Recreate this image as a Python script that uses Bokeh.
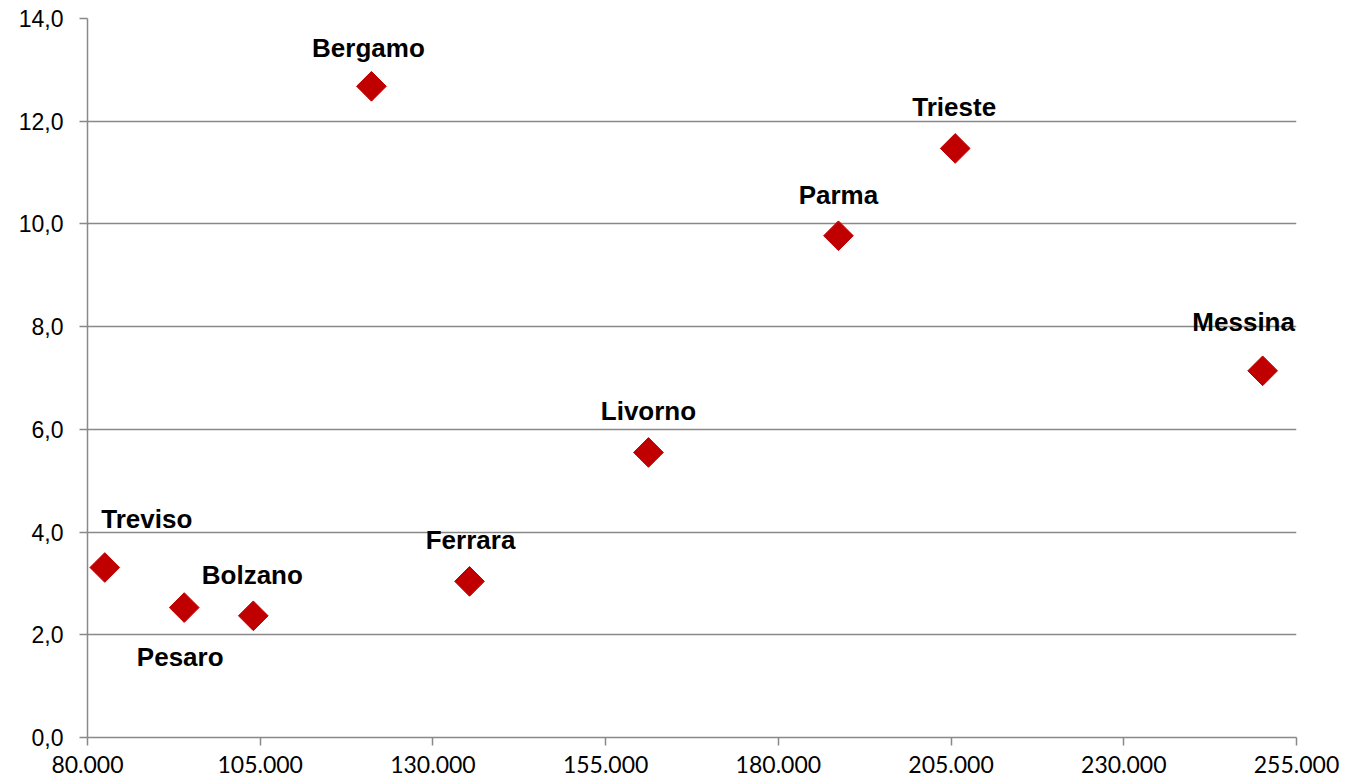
from bokeh.plotting import figure
from bokeh.models import ColumnDataSource, FixedTicker, Range1d, LabelSet
from bokeh.core.properties import value
from bokeh.embed import file_html
from bokeh.resources import INLINE
import math

cities = ["Treviso", "Pesaro", "Bolzano", "Ferrara", "Livorno", "Bergamo", "Parma", "Trieste", "Messina"]
population = [82500, 94000, 104000, 135300, 161200, 121100, 188700, 205600, 250100]
rate = [3.31, 2.53, 2.37, 3.04, 5.55, 12.68, 9.77, 11.47, 7.14]

x_ticks = [80000, 105000, 130000, 155000, 180000, 205000, 230000, 255000]
x_tick_labels = ["80.000", "105.000", "130.000", "155.000", "180.000", "205.000", "230.000", "255.000"]
y_ticks = [0, 2, 4, 6, 8, 10, 12, 14]
y_tick_labels = ["0,0", "2,0", "4,0", "6,0", "8,0", "10,0", "12,0", "14,0"]

# label placement (screen pixel offsets from each marker; dy positive = up)
label_dx = [42, -4, -1, 1, 0, -3, 0, -1, -19]
label_dy = [49, -49, 41, 41, 41, 38, 41, 41, 49]

src = ColumnDataSource(dict(x=population, y=rate, name=cities, dx=label_dx, dy=label_dy))

p = figure(width=1351, height=784, output_backend="svg", toolbar_location=None,
           x_range=Range1d(80000, 255000), y_range=Range1d(0, 14),
           min_border_left=87, min_border_right=55, min_border_top=18, min_border_bottom=47)
p.outline_line_color = None
p.background_fill_color = "white"
p.border_fill_color = "white"

grid_col = "#898989"
p.xgrid.grid_line_color = None
p.ygrid.grid_line_color = grid_col
p.ygrid.grid_line_width = 1.5

p.xaxis.ticker = FixedTicker(ticks=x_ticks)
p.yaxis.ticker = FixedTicker(ticks=y_ticks)
p.xaxis.major_label_overrides = {t: l for t, l in zip(x_ticks, x_tick_labels)}
p.yaxis.major_label_overrides = {t: l for t, l in zip(y_ticks, y_tick_labels)}

for ax in (p.xaxis, p.yaxis):
    ax.axis_line_color = grid_col
    ax.axis_line_width = 1.5
    ax.major_tick_line_color = grid_col
    ax.major_tick_line_width = 1.5
    ax.major_tick_out = 8
    ax.major_tick_in = 0
    ax.minor_tick_line_color = None
    ax.major_label_text_color = "black"

p.yaxis.major_label_text_font = "Liberation Sans"
p.yaxis.major_label_text_font_size = "23px"
p.yaxis.major_label_standoff = 16
p.xaxis.major_label_text_font = "Lato"
p.xaxis.major_label_text_font_size = "23px"
p.xaxis.major_label_standoff = 10

p.scatter("x", "y", source=src, marker="square", size=21, angle=math.pi / 4,
          fill_color="#C00000", line_color="#C00000")

labels = LabelSet(x="x", y="y", text="name", source=src, x_offset="dx", y_offset="dy",
                  text_align="center", text_baseline="middle",
                  text_font=value("Liberation Sans"), text_font_style="bold",
                  text_font_size="26px", text_color="black")
p.add_layout(labels)

open("out.html", "w").write(file_html(p, INLINE))
